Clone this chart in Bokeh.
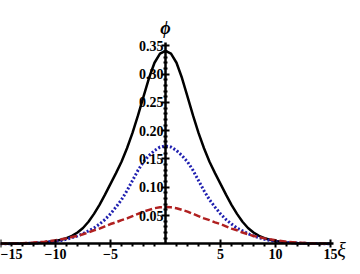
from bokeh.plotting import figure
from bokeh.models import FixedTicker, Range1d
from bokeh.core.properties import value
from bokeh.embed import file_html
from bokeh.resources import INLINE

xi = [-15, -14, -13, -12, -11, -10, -9.5, -9, -8.5, -8, -7.5, -7, -6.5, -6, -5.5, -5,
      -4.5, -4, -3.5, -3, -2.5, -2, -1.5, -1, -0.5, 0, 0.5, 1, 1.5, 2, 2.5, 3, 3.5, 4,
      4.5, 5, 5.5, 6, 6.5, 7, 7.5, 8, 8.5, 9, 9.5, 10, 11, 12, 13, 14, 15]

phi_black = [0.0001, 0.0003, 0.0006, 0.0012, 0.0025, 0.005, 0.0072, 0.010, 0.014, 0.020,
             0.028, 0.039, 0.053, 0.069, 0.087, 0.106, 0.125, 0.145, 0.169, 0.196, 0.227,
             0.260, 0.293, 0.320, 0.336, 0.341, 0.336, 0.320, 0.293, 0.260, 0.227, 0.196,
             0.169, 0.145, 0.125, 0.106, 0.087, 0.069, 0.053, 0.039, 0.028, 0.020, 0.014,
             0.010, 0.0072, 0.005, 0.0025, 0.0012, 0.0006, 0.0003, 0.0001]

phi_blue = [0.0002, 0.0004, 0.0007, 0.0013, 0.0025, 0.0045, 0.006, 0.008, 0.011, 0.014,
            0.018, 0.023, 0.028, 0.035, 0.043, 0.053, 0.065, 0.078, 0.094, 0.112, 0.130,
            0.145, 0.156, 0.165, 0.171, 0.173, 0.171, 0.165, 0.156, 0.145, 0.130, 0.112,
            0.094, 0.078, 0.065, 0.053, 0.043, 0.035, 0.028, 0.023, 0.018, 0.014, 0.011,
            0.008, 0.006, 0.0045, 0.0025, 0.0013, 0.0007, 0.0004, 0.0002]

phi_red = [0.0004, 0.0007, 0.0012, 0.0022, 0.0038, 0.0065, 0.008, 0.0097, 0.012, 0.014,
           0.017, 0.020, 0.024, 0.027, 0.031, 0.035, 0.038, 0.042, 0.045, 0.049, 0.053,
           0.057, 0.060, 0.063, 0.0645, 0.065, 0.0645, 0.063, 0.060, 0.057, 0.053, 0.049,
           0.045, 0.042, 0.038, 0.035, 0.031, 0.027, 0.024, 0.020, 0.017, 0.014, 0.012,
           0.0097, 0.008, 0.0065, 0.0038, 0.0022, 0.0012, 0.0007, 0.0004]

x_ticks = [-15, -10, -5, 5, 10, 15]
x_labels = ["\u221215", "\u221210", "\u22125", "5", "10", "15"]
x_minor = [v for v in range(-15, 16) if v % 5 != 0]
y_ticks = [0.05, 0.10, 0.15, 0.20, 0.25, 0.30, 0.35]
y_labels = ["0.05", "0.10", "0.15", "0.20", "0.25", "0.30", "0.35"]
y_minor = [round(0.01 * k, 2) for k in range(1, 36) if k % 5 != 0]

p = figure(width=352, height=266, output_backend="svg", toolbar_location=None,
           x_range=Range1d(-15.0, 17.0), y_range=Range1d(-0.040, 0.430),
           min_border_left=0, min_border_right=0, min_border_top=0, min_border_bottom=0)
p.grid.visible = False
p.outline_line_color = None
p.background_fill_color = "white"

p.line(xi, phi_black, line_color="black", line_width=2.5)
p.line(xi, phi_blue, line_color="#2020b0", line_width=3, line_dash="2 2")
p.line(xi, phi_red, line_color="#b02020", line_width=2.5, line_dash="7 3")

for ax in (p.xaxis[0], p.yaxis[0]):
    ax.fixed_location = 0
    ax.axis_line_width = 2.5
    ax.axis_line_color = "black"
    ax.major_tick_line_width = 2
    ax.minor_tick_line_width = 2
    ax.major_tick_in = 4
    ax.major_tick_out = 4
    ax.major_label_text_font = "Liberation Serif"
    ax.major_label_text_font_style = "bold"
    ax.major_label_text_font_size = "14px"
    ax.major_label_text_color = "black"

xa = p.xaxis[0]
xa.ticker = FixedTicker(ticks=x_ticks, minor_ticks=x_minor)
xa.major_label_overrides = dict(zip(x_ticks, x_labels))
xa.major_label_standoff = 1
xa.minor_tick_in = 0
xa.minor_tick_out = 3
xa.bounds = (-15.2, 15.3)

ya = p.yaxis[0]
ya.ticker = FixedTicker(ticks=y_ticks, minor_ticks=y_minor)
ya.major_label_overrides = dict(zip(y_ticks, y_labels))
ya.major_label_standoff = -2
ya.minor_tick_in = 2
ya.minor_tick_out = 2
ya.bounds = (0, 0.356)

p.text(x=[0], y=[0.382], text=["\u03d5"], text_align="center", text_baseline="middle",
       text_font=value("Liberation Serif"), text_font_style="bold italic",
       text_font_size="18px", text_color="black")
p.text(x=[16.0], y=[-0.011], text=["\u03be"], text_align="center", text_baseline="middle",
       text_font=value("Liberation Serif"), text_font_style="italic",
       text_font_size="20px", text_color="black")

open("out.html", "w").write(file_html(p, INLINE))
